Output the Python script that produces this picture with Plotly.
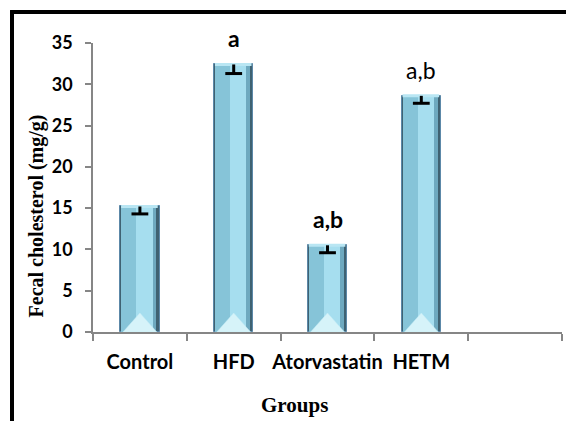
import numpy as np
import plotly.graph_objects as go

# Fecal cholesterol per treatment group (mean and SEM, mg/g)
groups = ["Control", "HFD", "Atorvastatin", "HETM"]
fecal = [15.2, 32.4, 10.5, 28.6]
sem = [0.9, 1.1, 0.9, 0.9]
letters = ["", "a", "a,b", "a,b"]
letter_bold = [False, True, True, False]
y_ticks = [0, 5, 10, 15, 20, 25, 30, 35]

pos = np.arange(len(groups))
n_slots = len(groups) + 1  # one empty slot on the right

AXIS_GREY = "#868686"
SANS = "Lato, 'Open Sans', sans-serif"
SERIF = "'Liberation Serif', 'DejaVu Serif', serif"

fig = go.Figure()

# layered bars give the bevelled glass look
BAR_W = 0.42
layers = [
    dict(width=BAR_W, offset=-BAR_W / 2, color="#3f6272", line="#5c88a8", lw=1),
    dict(width=BAR_W - 0.05, offset=-BAR_W / 2 + 0.01, color="#86c4d8", line="#86c4d8", lw=0),
    dict(width=0.2, offset=-0.04, color="#a6deef", line="#a6deef", lw=0),
    dict(width=0.04, offset=BAR_W / 2 - 0.075, color="#6ea9bf", line="#6ea9bf", lw=0),
]
for L in layers:
    fig.add_trace(go.Bar(
        x=pos, y=fecal, width=L["width"], offset=L["offset"],
        marker=dict(color=L["color"], line=dict(color=L["line"], width=L["lw"])),
        showlegend=False, hoverinfo="skip",
    ))

# light rim along each bar top
fig.add_trace(go.Scatter(
    x=np.ravel([[p - BAR_W / 2 + 0.01, p + BAR_W / 2 - 0.02, None] for p in pos]),
    y=np.ravel([[v, v, None] for v in fecal]),
    mode="lines", line=dict(color="#b9e6f3", width=3),
    showlegend=False, hoverinfo="skip",
))

# pale bevel triangle at the foot of every bar
tri_h = 2.3
tri_half = BAR_W / 2 - 0.03
for p in pos:
    fig.add_trace(go.Scatter(
        x=[p - tri_half, p, p + tri_half, p - tri_half],
        y=[0, tri_h, 0, 0],
        mode="lines", fill="toself", fillcolor="#d6f3f9",
        line=dict(color="#c4ecf6", width=0.5),
        showlegend=False, hoverinfo="skip",
    ))

# downward error bars (stem) and their caps
fig.add_trace(go.Scatter(
    x=pos, y=fecal, mode="markers", marker=dict(size=1, opacity=0),
    error_y=dict(type="data", symmetric=False, array=[0] * len(sem),
                 arrayminus=sem, width=0, thickness=3, color="black"),
    showlegend=False, hoverinfo="skip",
))
fig.add_trace(go.Scatter(
    x=pos, y=[m - s for m, s in zip(fecal, sem)], mode="markers",
    marker=dict(symbol="line-ew-open", size=12, color="black",
                line=dict(color="black", width=3)),
    showlegend=False, hoverinfo="skip",
))

# significance letters
for p, v, txt, b in zip(pos, fecal, letters, letter_bold):
    if not txt:
        continue
    fig.add_annotation(
        x=p, y=v, text=f"<b>{txt}</b>" if b else txt, showarrow=False,
        yanchor="middle", yshift=26,
        font=dict(family=SANS, size=23, color="black"),
    )

# axis titles
fig.add_annotation(
    xref="paper", yref="paper", x=-0.1215, y=0.40, text="<b>Fecal cholesterol (mg/g)</b>",
    textangle=-90, showarrow=False, xanchor="center", yanchor="middle",
    font=dict(family=SERIF, size=20, color="black"),
)
fig.add_annotation(
    xref="paper", yref="paper", x=0.4296, y=-0.2526, text="<b>Groups</b>",
    showarrow=False, xanchor="center", yanchor="middle",
    font=dict(family=SERIF, size=21, color="black"),
)

# outer frame: only its left and top edges fall inside the figure
FRAME_X, FRAME_Y = -0.1727, 1.107
fig.add_shape(type="line", xref="paper", yref="paper",
              x0=FRAME_X, x1=FRAME_X, y0=-0.8, y1=FRAME_Y + 0.006,
              line=dict(color="black", width=4), layer="above")
fig.add_shape(type="line", xref="paper", yref="paper",
              x0=FRAME_X - 0.004, x1=1.6, y0=FRAME_Y, y1=FRAME_Y,
              line=dict(color="black", width=4), layer="above")

fig.update_layout(
    width=566, height=421,
    margin=dict(l=93, r=4, t=43, b=89),
    paper_bgcolor="white", plot_bgcolor="white",
    barmode="overlay", bargap=0,
    showlegend=False,
    xaxis=dict(
        range=[-0.5, n_slots - 0.5],
        tickmode="array", tickvals=pos, ticktext=[f"<b>{g}</b>" for g in groups],
        ticks="", showgrid=False, zeroline=False,
        showline=True, linecolor=AXIS_GREY, linewidth=2,
        tickfont=dict(family=SANS, size=20, color="black"),
        ticklabelstandoff=11,
        minor=dict(tickmode="linear", tick0=-0.5, dtick=1, ticks="outside",
                   ticklen=7, tickwidth=1.5, tickcolor=AXIS_GREY, showgrid=False),
    ),
    yaxis=dict(
        range=[0, 35], tickmode="array", tickvals=y_ticks,
        ticktext=[f"<b>{t}</b>" for t in y_ticks],
        ticks="outside", ticklen=6, tickwidth=1.5, tickcolor=AXIS_GREY,
        showgrid=False, zeroline=False,
        showline=True, linecolor=AXIS_GREY, linewidth=1.5,
        tickfont=dict(family=SANS, size=18, color="black"),
        ticklabelstandoff=9,
    ),
)

fig.write_html("out.html")
